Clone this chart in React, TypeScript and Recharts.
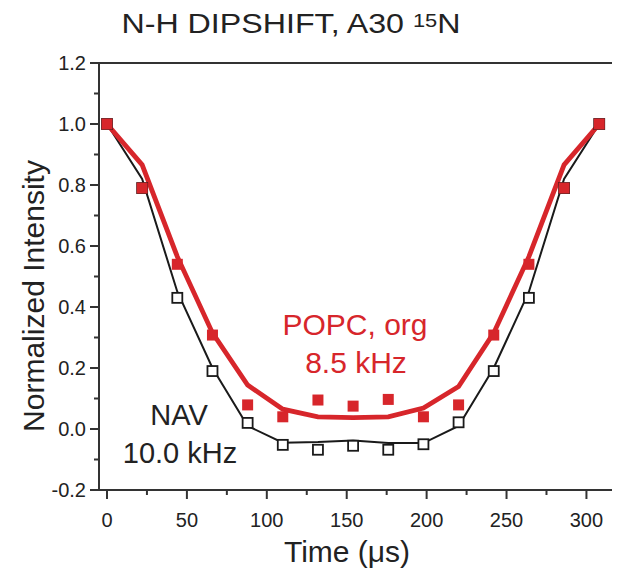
import { ComposedChart, Line, Scatter, XAxis, YAxis, ReferenceLine } from 'recharts';

const times = [0, 22, 44, 66, 88, 110, 132, 154, 176, 198, 220, 242, 264, 286, 308];
const navPoints = [1.0, 0.79, 0.43, 0.19, 0.02, -0.052, -0.068, -0.055, -0.068, -0.05, 0.022, 0.19, 0.43, 0.79, 1.0];
const navFit = [1.0, 0.82, 0.45, 0.2, 0.01, -0.045, -0.043, -0.038, -0.046, -0.046, 0.01, 0.2, 0.45, 0.82, 1.0];
const popcPoints = [1.0, 0.79, 0.54, 0.308, 0.079, 0.04, 0.095, 0.075, 0.097, 0.04, 0.079, 0.308, 0.54, 0.79, 1.0];
const popcFit = [1.0, 0.866, 0.565, 0.315, 0.144, 0.065, 0.04, 0.037, 0.04, 0.069, 0.139, 0.315, 0.565, 0.866, 1.0];

const xTicks = [0, 25, 50, 75, 100, 125, 150, 175, 200, 225, 250, 275, 300];
const yTicks = [-0.2, -0.1, 0, 0.1, 0.2, 0.3, 0.4, 0.5, 0.6, 0.7, 0.8, 0.9, 1.0, 1.1, 1.2];

const RED = '#d7262b';
const INK = '#1a1a1a';
const AXIS = '#333';
const FONT = '"Liberation Sans", Arial, sans-serif';

const data = times.map((t, i) => ({
  t,
  nav: navPoints[i],
  navFit: navFit[i],
  popc: popcPoints[i],
  popcFit: popcFit[i],
}));

const YTick = ({ x, y, payload }: any) => {
  const major = Math.round(payload.value * 10) % 2 === 0;
  return (
    <g>
      <line x1={x - (major ? 9 : 5)} x2={x} y1={y} y2={y} stroke={AXIS} strokeWidth={2} />
      {major && (
        <text x={x - 13} y={y} dy="0.36em" textAnchor="end" fontSize={20} fill="#222" fontFamily={FONT}>
          {payload.value.toFixed(1)}
        </text>
      )}
    </g>
  );
};

const XTick = ({ x, y, payload }: any) => {
  const major = payload.value % 50 === 0;
  return (
    <g>
      <line x1={x} x2={x} y1={y} y2={y + (major ? 9 : 5)} stroke={AXIS} strokeWidth={2} />
      {major && (
        <text x={x} y={y + 37} textAnchor="middle" fontSize={20} fill="#222" fontFamily={FONT}>
          {payload.value}
        </text>
      )}
    </g>
  );
};

const FilledSquare = ({ cx, cy }: any) => (
  <rect x={cx - 5.5} y={cy - 5.5} width={11} height={11} fill={RED} />
);

const OpenSquare = ({ cx, cy }: any) => (
  <rect x={cx - 5} y={cy - 5} width={10} height={10} fill="#fff" stroke={INK} strokeWidth={1.8} />
);

export default function App() {
  return (
    <div style={{ position: 'relative', width: 612, height: 562 }}>
      <ComposedChart width={612} height={562} data={data} margin={{ top: 55, right: 0, bottom: 0, left: 0 }}>
        <XAxis
          dataKey="t"
          type="number"
          domain={[-5, 321]}
          ticks={xTicks}
          interval={0}
          height={80}
          tickSize={0}
          tickMargin={0}
          tickLine={false}
          tick={<XTick />}
          axisLine={{ stroke: AXIS, strokeWidth: 2 }}
        />
        <YAxis
          type="number"
          domain={[-0.2, 1.2]}
          ticks={yTicks}
          interval={0}
          width={91}
          tickSize={0}
          tickMargin={0}
          tickLine={false}
          tick={<YTick />}
          axisLine={{ stroke: AXIS, strokeWidth: 2 }}
        />
        <ReferenceLine y={1.2} stroke={AXIS} strokeWidth={2} />
        <Line dataKey="navFit" type="linear" stroke={INK} strokeWidth={2} dot={false} isAnimationActive={false} />
        <Scatter dataKey="nav" shape={<OpenSquare />} isAnimationActive={false} />
        <Line dataKey="popcFit" type="linear" stroke={RED} strokeWidth={4.8} dot={false} isAnimationActive={false} />
        <Scatter dataKey="popc" shape={<FilledSquare />} isAnimationActive={false} />
      </ComposedChart>
      <svg
        width={612}
        height={562}
        style={{ position: 'absolute', left: 0, top: 0, pointerEvents: 'none' }}
        fontFamily={FONT}
      >
        <g transform="translate(283 0) scale(1.15 1)">
          <text x={0} y={25} textAnchor="middle" fontSize={28} fill="#222">
            N-H DIPSHIFT, A30 <tspan fontSize={19} dy={-6}>15</tspan>
            <tspan dy={6}>N</tspan>
          </text>
        </g>
        <text x={36} y={288} textAnchor="middle" fontSize={30} fill="#222" transform="rotate(-90 36 288)">
          Normalized Intensity
        </text>
        <text x={339} y={554} textAnchor="middle" fontSize={30} fill="#222">
          Time (μs)
        </text>
        <text x={347} y={327} textAnchor="middle" fontSize={30} fill={RED}>POPC, org</text>
        <text x={348} y={365} textAnchor="middle" fontSize={30} fill={RED}>8.5 kHz</text>
        <text x={171} y={417} textAnchor="middle" fontSize={29} fill="#222">NAV</text>
        <text x={172} y={455} textAnchor="middle" fontSize={29} fill="#222">10.0 kHz</text>
      </svg>
    </div>
  );
}
